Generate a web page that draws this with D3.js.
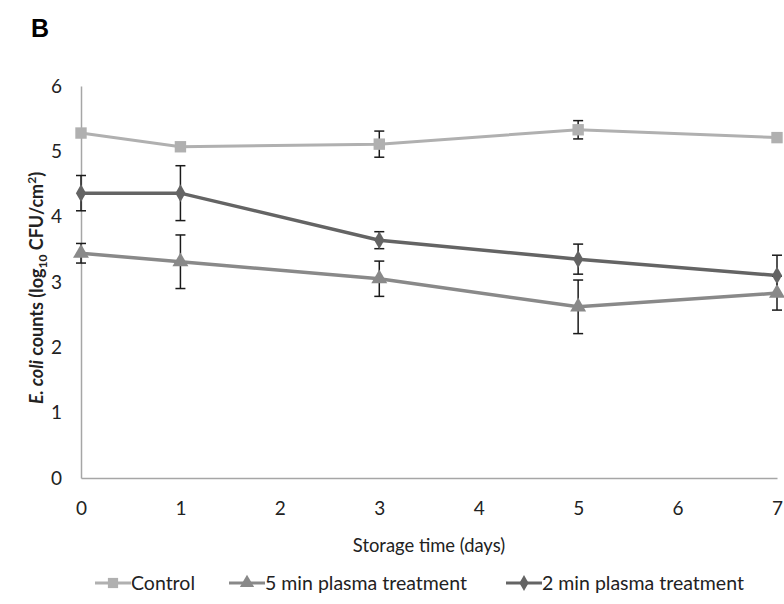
<!DOCTYPE html>
<html>
<head>
<meta charset="utf-8">
<script src="https://cdn.jsdelivr.net/npm/d3@7"></script>
<style>
  body { margin: 0; background: #fff; }
  text { font-family: Lato, "Open Sans", sans-serif; }
</style>
</head>
<body>
<div id="chart"></div>
<script>
// data
const days = [0, 1, 3, 5, 7];
const controlMean = [5.28, 5.07, 5.11, 5.33, 5.21];
const controlErr = [0, 0, 0.2, 0.14, 0];
const fiveMinMean = [3.44, 3.31, 3.05, 2.62, 2.83];
const fiveMinErr = [0.15, 0.41, 0.27, 0.41, 0.26];
const twoMinMean = [4.36, 4.36, 3.64, 3.35, 3.10];
const twoMinErr = [0.27, 0.42, 0.13, 0.23, 0.31];
const xTicks = [0, 1, 2, 3, 4, 5, 6, 7];
const yTicks = [0, 1, 2, 3, 4, 5, 6];

const series = [
  { name: 'Control', mean: controlMean, err: controlErr, color: '#b0b0b0', shape: d3.symbolSquare, size: 130 },
  { name: '5 min plasma treatment', mean: fiveMinMean, err: fiveMinErr, color: '#898989', shape: d3.symbolTriangle, size: 110 },
  { name: '2 min plasma treatment', mean: twoMinMean, err: twoMinErr, color: '#646464', shape: d3.symbolDiamond, size: 90 }
];

const width = 784, height = 604;
const svg = d3.select('#chart').append('svg')
  .attr('width', width)
  .attr('height', height);

const xScale = d3.scaleLinear().domain([0, 7]).range([81, 777]);
const yScale = d3.scaleLinear().domain([0, 6]).range([478, 86]);

// panel letter
svg.append('text')
  .attr('x', 31).attr('y', 37)
  .style('font-family', 'Arial, "Liberation Sans", sans-serif')
  .style('font-weight', 'bold')
  .style('font-size', '25px')
  .text('B');

// axes
const xAxis = svg.append('g')
  .attr('transform', `translate(0, ${yScale(0)})`)
  .call(d3.axisBottom(xScale).tickValues(xTicks).tickFormat(d3.format('d')).tickSize(0).tickPadding(24));
const yAxis = svg.append('g')
  .attr('transform', `translate(${xScale(0)}, 0)`)
  .call(d3.axisLeft(yScale).tickValues(yTicks).tickFormat(d3.format('d')).tickSize(0).tickPadding(19));

[xAxis, yAxis].forEach(g => {
  g.select('.domain').attr('stroke', '#a6a6a6').attr('stroke-width', 1.5);
  g.selectAll('text').style('font-size', '19px').attr('fill', '#222');
});

// axis titles
svg.append('text')
  .attr('x', 429).attr('y', 552)
  .attr('text-anchor', 'middle')
  .style('font-size', '18.4px')
  .attr('fill', '#222')
  .text('Storage time (days)');

const yTitle = svg.append('text')
  .attr('transform', 'translate(43, 288) rotate(-90)')
  .attr('text-anchor', 'middle')
  .style('font-size', '18px')
  .style('font-weight', 'bold')
  .attr('fill', '#222');
yTitle.append('tspan').style('font-style', 'italic').text('E. coli');
yTitle.append('tspan').text(' counts (log');
yTitle.append('tspan').attr('dy', 4).style('font-size', '12px').text('10');
yTitle.append('tspan').attr('dy', -4).text(' CFU/cm');
yTitle.append('tspan').attr('dy', -7).style('font-size', '12px').text('2');
yTitle.append('tspan').attr('dy', 7).text(')');

const line = d3.line()
  .x((d, i) => xScale(days[i]))
  .y(d => yScale(d));

series.forEach(s => {
  svg.append('path')
    .datum(s.mean)
    .attr('d', line)
    .attr('fill', 'none')
    .attr('stroke', s.color)
    .attr('stroke-width', s.name === 'Control' ? 3 : 3.5);
});

// error bars
series.forEach(s => {
  const g = svg.append('g');
  s.mean.forEach((m, i) => {
    if (!s.err[i]) return;
    const x = xScale(days[i]);
    const y1 = yScale(m + s.err[i]), y2 = yScale(m - s.err[i]);
    g.append('line').attr('x1', x).attr('x2', x).attr('y1', y1).attr('y2', y2)
      .attr('stroke', '#1a1a1a').attr('stroke-width', 1.5);
    [y1, y2].forEach(y => {
      g.append('line').attr('x1', x - 5).attr('x2', x + 5).attr('y1', y).attr('y2', y)
        .attr('stroke', '#1a1a1a').attr('stroke-width', 1.5);
    });
  });
});

// markers
series.forEach(s => {
  svg.append('g').selectAll('path')
    .data(s.mean)
    .join('path')
    .attr('transform', (d, i) => `translate(${xScale(days[i])}, ${yScale(d)})`)
    .attr('d', d3.symbol().type(s.shape).size(s.size))
    .attr('fill', s.color);
});

// legend
const legendX = [95, 229, 506];
const legend = svg.append('g');
series.forEach((s, i) => {
  const x0 = legendX[i];
  legend.append('line')
    .attr('x1', x0).attr('x2', x0 + 36)
    .attr('y1', 583).attr('y2', 583)
    .attr('stroke', s.color).attr('stroke-width', 3);
  legend.append('path')
    .attr('transform', `translate(${x0 + 18}, 583)`)
    .attr('d', d3.symbol().type(s.shape).size(s.size * 0.8))
    .attr('fill', s.color);
  legend.append('text')
    .attr('x', x0 + 36).attr('y', 590)
    .style('font-size', '19.5px')
    .attr('fill', '#222')
    .text(s.name);
});
</script>
</body>
</html>
